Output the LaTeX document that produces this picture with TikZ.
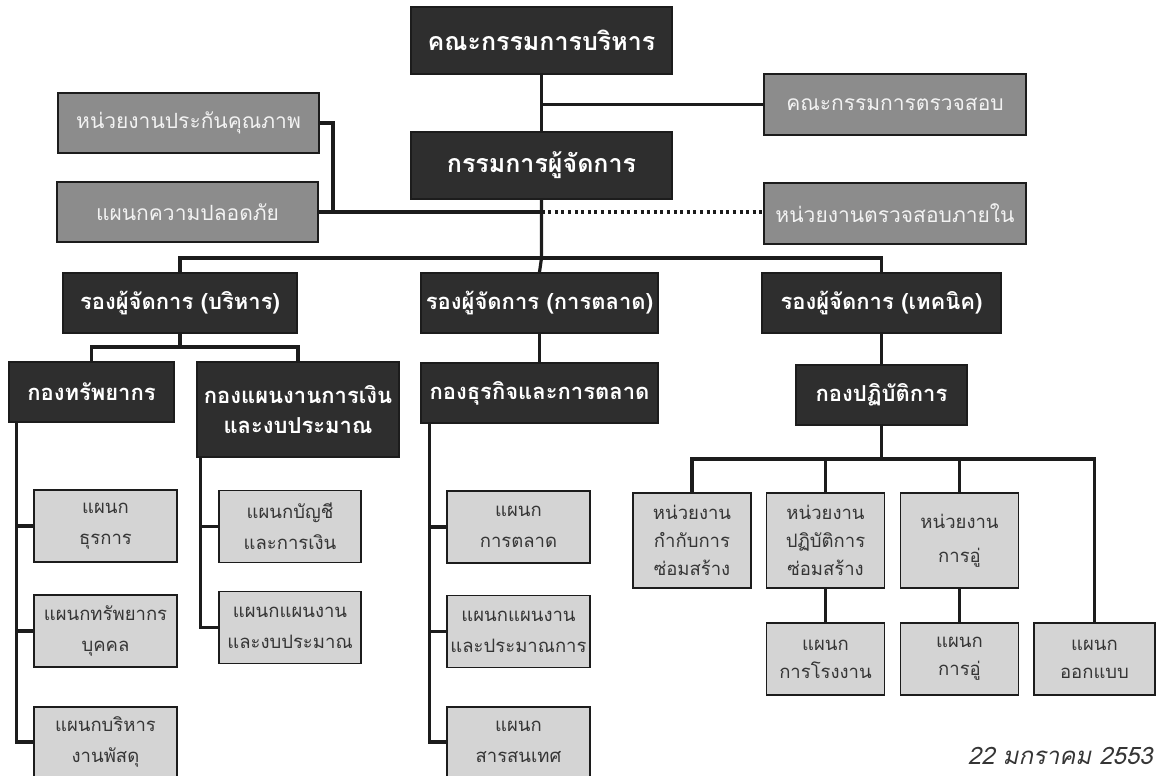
\documentclass[tikz,border=0pt]{standalone}
\usepackage{fontspec}
\newfontfamily\thaifont[Script=Thai]{Loma}
\definecolor{orgInk}{HTML}{1C1C1C}
\definecolor{orgDark}{HTML}{2E2E2E}
\definecolor{orgMid}{HTML}{8C8C8C}
\definecolor{orgLight}{HTML}{D4D4D4}
\definecolor{orgText}{HTML}{353535}
\tikzset{
  org box/.style={draw=orgInk, line width=1.8pt, inner sep=0pt, align=center},
  org dark/.style={org box, fill=orgDark, text=white, font=\thaifont\bfseries\fontsize{22}{30}\selectfont},
  org big/.style={font=\thaifont\bfseries\fontsize{25}{30}\selectfont},
  org mid/.style={org box, fill=orgMid, text=white!95!black, font=\thaifont\fontsize{21}{28}\selectfont},
  org light/.style={org box, fill=orgLight, text=orgText, minimum width=143pt, minimum height=72pt, font=\thaifont\fontsize{18.5}{31}\selectfont},
  org unit/.style={org light, minimum width=118pt, font=\thaifont\fontsize{18.5}{28}\selectfont},
  org link/.style={draw=orgInk, line width=3.2pt},
  org dotted link/.style={draw=orgInk, line width=3.2pt, dash pattern=on 3pt off 3.6pt},
  org date/.style={font=\thaifont\itshape\fontsize{24}{28}\selectfont, text=orgText, inner sep=0pt},
}
\begin{document}
\begin{tikzpicture}[x=1pt, y=-1pt]
  \useasboundingbox (0,0) rectangle (1157,776);
  % Board and managing director
  \node[org dark, org big, minimum width=261pt, minimum height=67pt] (board) at (541.5,40.5) {คณะกรรมการบริหาร};
  \node[org mid, minimum width=262pt, minimum height=61pt] (audit) at (895,104.5) {คณะกรรมการตรวจสอบ};
  \node[org mid, minimum width=261pt, minimum height=60pt] (quality) at (188.5,123) {หน่วยงานประกันคุณภาพ};
  \node[org dark, org big, minimum width=261pt, minimum height=67pt] (md) at (541.5,165.5) {กรรมการผู้จัดการ};
  \node[org mid, minimum width=261pt, minimum height=60pt] (safety) at (187.5,212) {แผนกความปลอดภัย};
  \node[org mid, minimum width=262pt, minimum height=61pt] (internal) at (895,213.5) {หน่วยงานตรวจสอบภายใน};
  % Deputies
  \node[org dark, minimum width=234pt, minimum height=60pt] (depAdmin) at (180,303) {รองผู้จัดการ (บริหาร)};
  \node[org dark, minimum width=237pt, minimum height=60pt] (depMkt) at (539.5,303) {รองผู้จัดการ (การตลาด)};
  \node[org dark, minimum width=239pt, minimum height=60pt] (depTech) at (881.5,303) {รองผู้จัดการ (เทคนิค)};
  % Divisions
  \node[org dark, minimum width=165pt, minimum height=60pt] (divRes) at (91.5,392) {กองทรัพยากร};
  \node[org dark, minimum width=202pt, minimum height=95pt] (divFin) at (298,409.5) {กองแผนงานการเงิน\\และงบประมาณ};
  \node[org dark, minimum width=237pt, minimum height=60pt] (divBiz) at (539.5,393) {กองธุรกิจและการตลาด};
  \node[org dark, minimum width=171pt, minimum height=60pt] (divOps) at (881.5,395) {กองปฏิบัติการ};
  % Sections
  \node[org light] (secAdm) at (105.5,526) {แผนก\\ธุรการ};
  \node[org light] (secHR) at (105.5,631) {แผนกทรัพยากร\\บุคคล};
  \node[org light, minimum height=70pt] (secSup) at (105.5,742) {แผนกบริหาร\\งานพัสดุ};
  \node[org light, minimum width=142pt] (secAcc) at (290,526.5) {แผนกบัญชี\\และการเงิน};
  \node[org light, minimum width=142pt] (secBud) at (290,627.5) {แผนกแผนงาน\\และงบประมาณ};
  \node[org light] (secMkt) at (518.5,527) {แผนก\\การตลาด};
  \node[org light] (secPlan) at (518.5,631.5) {แผนกแผนงาน\\และประมาณการ};
  \node[org light, minimum height=70pt] (secIT) at (518.5,742) {แผนก\\สารสนเทศ};
  \node[org unit, minimum height=95pt] (unitCtl) at (692,540.5) {หน่วยงาน\\กำกับการ\\ซ่อมสร้าง};
  \node[org unit, minimum height=95pt] (unitRep) at (825.5,540.5) {หน่วยงาน\\ปฏิบัติการ\\ซ่อมสร้าง};
  \node[org unit, minimum height=95pt] (unitDock) at (959.5,540.5) {หน่วยงาน\\[6pt]การอู่};
  \node[org unit] (secWork) at (825.5,659) {แผนก\\การโรงงาน};
  \node[org unit] (secDock) at (959.5,659) {แผนก\\การอู่};
  \node[org unit, minimum width=121pt] (secDes) at (1094.5,659) {แผนก\\ออกแบบ};
  \node[org date, anchor=base east] (date) at (1153,764) {22 มกราคม 2553};
  % Upper links
  \draw[org link] (board) -- (md);
  \draw[org link] (board.south |- audit.west) -- (audit.west);
  \draw[org link] (quality.east) -| ([xshift=14pt]safety.east);
  \draw[org link] (safety.east) -- (md.south |- safety.east);
  \draw[org dotted link] (md.south |- safety.east) -- (internal.west |- safety.east);
  \coordinate (mdBus) at (md.south |- 0,258);
  \draw[org link] (md.south) -- (mdBus) -- (depMkt.north);
  \draw[org link] (depAdmin.north) |- (mdBus) -| (depTech.north);
  % Deputy to division links
  \coordinate (admBus) at (depAdmin.south |- 0,347);
  \draw[org link] (depAdmin.south) -- (admBus);
  \draw[org link] (divRes.north) |- (admBus) -| (divFin.north);
  \draw[org link] (depMkt) -- (divBiz);
  \draw[org link] (depTech) -- (divOps);
  % Section spines
  \coordinate (resSpine) at ([xshift=8pt]divRes.south west);
  \coordinate (finSpine) at ([xshift=4pt]divFin.south west);
  \coordinate (bizSpine) at ([xshift=9pt]divBiz.south west);
  \foreach \s in {secAdm,secHR,secSup} \draw[org link] (resSpine) |- (\s.west);
  \foreach \s in {secAcc,secBud} \draw[org link] (finSpine) |- (\s.west);
  \foreach \s in {secMkt,secPlan,secIT} \draw[org link] (bizSpine) |- (\s.west);
  % Operations units
  \coordinate (opsBus) at (divOps.south |- 0,459);
  \draw[org link] (divOps.south) -- (opsBus);
  \draw[org link] (unitCtl.north) |- (opsBus) -| (secDes.north);
  \foreach \u in {unitRep,unitDock} \draw[org link] (opsBus -| \u.north) -- (\u.north);
  \draw[org link] (unitRep) -- (secWork);
  \draw[org link] (unitDock) -- (secDock);
\end{tikzpicture}
\end{document}
